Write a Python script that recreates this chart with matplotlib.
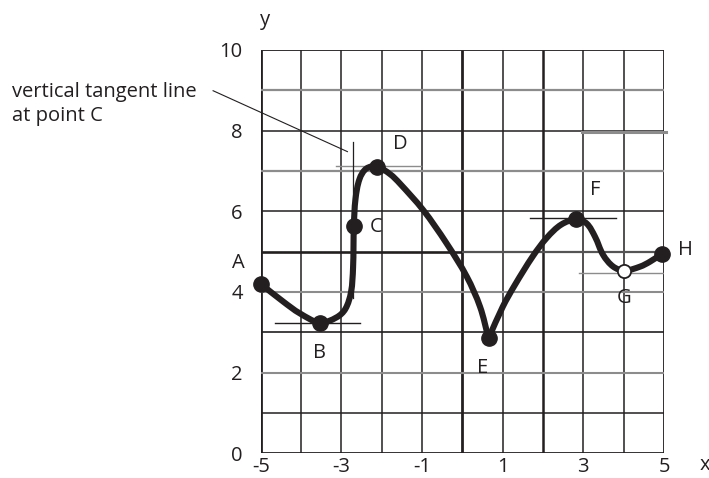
import matplotlib
matplotlib.use("Agg")
import math
import matplotlib.pyplot as plt
from matplotlib.path import Path
from matplotlib.patches import PathPatch

plt.rcParams['font.family'] = ['Open Sans', 'DejaVu Sans']
plt.rcParams['axes.unicode_minus'] = False

INK = '#231f20'
GREY = '#8c8c8c'

# Traced curve of f(x): left branch A..E, right branch E..H (cusp at E)
left_x = [-5.00, -4.44, -4.03, -3.53, -3.12, -2.90, -2.76, -2.71, -2.69,
          -2.65, -2.55, -2.38, -2.12, -1.79, -1.55, -0.97, -0.40,
          0.11, 0.44, 0.65]
left_y = [4.20, 3.76, 3.47, 3.24, 3.37, 3.58, 4.00, 4.60, 5.64,
          6.30, 6.80, 7.06, 7.11, 6.92, 6.69, 6.03, 5.22,
          4.38, 3.63, 2.85]
right_x = [0.65, 1.00, 1.30, 1.75, 2.10, 2.45, 2.82, 3.08, 3.29, 3.49,
           3.74, 4.02, 4.41, 4.65, 4.94]
right_y = [2.85, 3.63, 4.17, 4.89, 5.35, 5.67, 5.80, 5.70, 5.37, 4.92,
           4.63, 4.53, 4.63, 4.75, 4.94]

# Labelled points
point_names = ['A', 'B', 'C', 'D', 'E', 'F', 'G', 'H']
point_x = [-5.00, -3.53, -2.69, -2.12, 0.65, 2.82, 4.02, 4.94]
point_y = [4.20, 3.24, 5.64, 7.11, 2.85, 5.80, 4.53, 4.94]
point_filled = [True, True, True, True, True, True, False, True]

# Tick labels
x_ticks = [-5, -3, -1, 1, 3, 5]
y_ticks = [0, 2, 4, 6, 8, 10]

# Horizontal tangent segments: (y, x_start, x_end, colour)
h_tangents = [(3.22, -4.65, -2.54, INK), (7.13, -3.13, -1.03, GREY),
              (5.83, 1.68, 3.81, INK), (4.48, 2.90, 4.98, GREY)]
# Vertical tangent at C: (x, y_start, y_end)
v_tangent = (-2.71, 3.84, 7.73)


def smooth_path(xs, ys):
    """Cubic Bezier path through every traced point, handles a third of each chord."""
    pts = list(zip(xs, ys))
    n = len(pts)

    def unit(a, b):
        dx, dy = b[0] - a[0], b[1] - a[1]
        d = math.hypot(dx, dy)
        return dx / d, dy / d

    dirs = []
    for i in range(n):
        a = pts[max(i - 1, 0)]
        b = pts[min(i + 1, n - 1)]
        dirs.append(unit(a, b))

    verts = [pts[0]]
    codes = [Path.MOVETO]
    for i in range(n - 1):
        p1, p2 = pts[i], pts[i + 1]
        L = math.hypot(p2[0] - p1[0], p2[1] - p1[1]) / 3
        c1 = (p1[0] + dirs[i][0] * L, p1[1] + dirs[i][1] * L)
        c2 = (p2[0] - dirs[i + 1][0] * L, p2[1] - dirs[i + 1][1] * L)
        verts += [c1, c2, p2]
        codes += [Path.CURVE4] * 3
    return Path(verts, codes)


fig = plt.figure(figsize=(7.09, 4.78), dpi=100)
ax = fig.add_axes([260.7 / 709, 24.7 / 478, 403.3 / 709, 403.3 / 478])
ax.set_xlim(-5, 5)
ax.set_ylim(0, 10)
for s in ax.spines.values():
    s.set_visible(False)

# Grid
v_lw = {-5: 2.0, 0: 2.0, 2: 1.8, 5: 1.3}
for gx in range(-5, 6):
    ax.plot([gx, gx], [0, 10], color=INK, lw=v_lw.get(gx, 1.1), zorder=1,
            solid_capstyle='butt')
h_style = {10: (INK, 1.3), 9: (GREY, 1.6), 8: (INK, 1.1), 7: (GREY, 1.6),
           6: (INK, 1.1), 4: (GREY, 1.5), 3: (INK, 1.2),
           2: (GREY, 1.5), 1: (INK, 1.1), 0: (INK, 2.0)}
for gy, (c, lw) in h_style.items():
    ax.plot([-5, 5], [gy, gy], color=c, lw=lw, zorder=1, solid_capstyle='butt')
ax.plot([-5, 0], [5, 5], color=INK, lw=1.9, zorder=1, solid_capstyle='butt')
ax.plot([0, 5], [5, 5], color='#555555', lw=1.6, zorder=1, solid_capstyle='butt')
ax.plot([2.96, 5.05], [7.97, 7.97], color=GREY, lw=2.2, zorder=1, clip_on=False)

# Tangent lines
for ty, xa, xb, c in h_tangents:
    ax.plot([xa, xb], [ty, ty], color=c, lw=1.0, zorder=2)
ax.plot([v_tangent[0]] * 2, [v_tangent[1], v_tangent[2]], color=INK, lw=0.9, zorder=2)

# Curve
for xs, ys in ((left_x, left_y), (right_x, right_y)):
    ax.add_patch(PathPatch(smooth_path(xs, ys), fill=False, edgecolor=INK, lw=4.4,
                           capstyle='round', joinstyle='round', zorder=3,
                           clip_on=False))

# Points
for px, py, filled in zip(point_x, point_y, point_filled):
    if filled:
        ax.plot(px, py, 'o', ms=11, color=INK, zorder=4, clip_on=False)
    else:
        ax.plot(px, py, 'o', ms=9.5, mfc='white', mec=INK, mew=1.3, zorder=4,
                clip_on=False)

# Point labels (offsets in points)
label_offsets = {'A': (-16, 15), 'B': (0, -22), 'C': (16, -1), 'D': (17, 16),
                 'E': (-4, -21), 'F': (14, 21), 'G': (0, -20), 'H': (17, 3)}
for name, px, py in zip(point_names, point_x, point_y):
    dx, dy = label_offsets[name]
    ax.annotate(name, (px, py), xytext=(dx, dy), textcoords='offset points',
                ha='center', va='center', fontsize=14.5, color=INK)

# Ticks
ax.set_xticks(x_ticks)
ax.set_yticks(y_ticks)
ax.tick_params(length=0, labelsize=14.5, labelcolor=INK)
ax.tick_params(axis='x', pad=3)
ax.tick_params(axis='y', pad=13)

# Axis letters
ax.text(6.02, -0.28, 'x', fontsize=14.5, color=INK, ha='center', va='center',
        clip_on=False)
ax.text(-4.9, 10.75, 'y', fontsize=14.5, color=INK, ha='center', va='center',
        clip_on=False)

# Callout for the vertical tangent
ax.text(-11.17, 8.66, 'vertical tangent line\nat point C', ha='left', va='center',
        fontsize=14.5, color=INK, linespacing=1.25, clip_on=False)
ax.plot([-6.18, -2.85], [8.99, 7.48], color=INK, lw=0.8, clip_on=False, zorder=2)

fig.savefig('out.png', dpi=100)
